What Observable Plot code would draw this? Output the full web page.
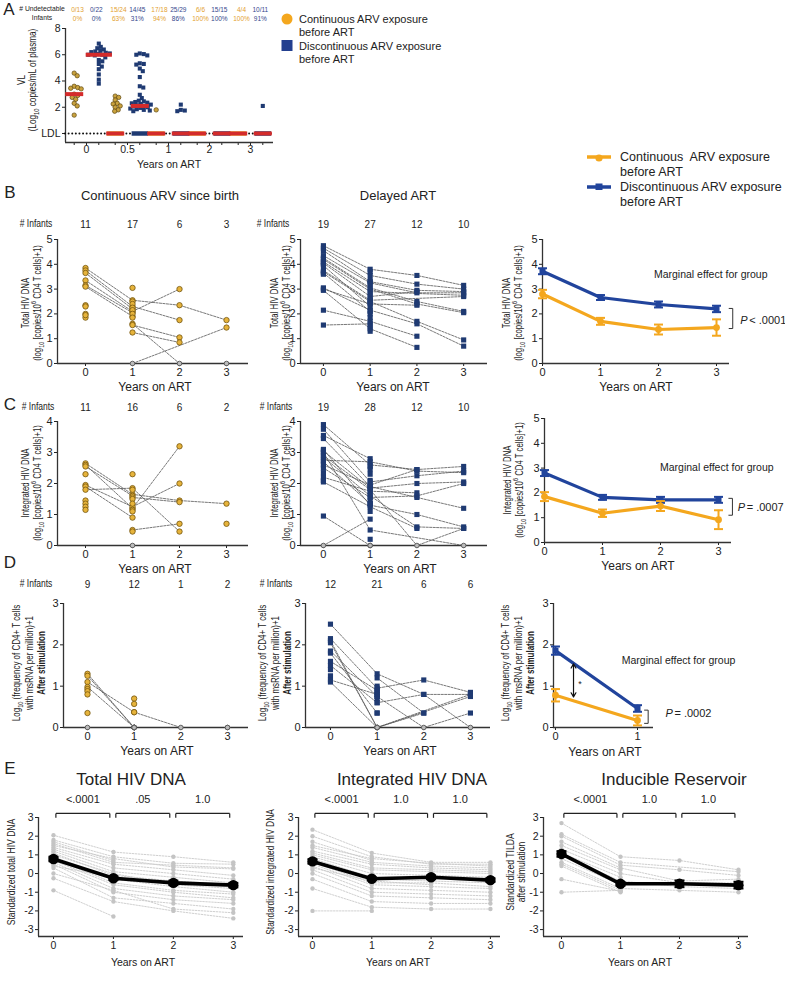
<!DOCTYPE html>
<html><head><meta charset="utf-8">
<script src="https://cdn.jsdelivr.net/npm/d3@7"></script>
<script src="https://cdn.jsdelivr.net/npm/@observablehq/plot@0.6"></script>
<style>
body{margin:0;background:#fff;}
#fig{position:relative;width:785px;height:985px;background:#fff;overflow:hidden;font-family:"Liberation Sans",Arial,Helvetica,sans-serif;color:#222;}
.abs{position:absolute;white-space:nowrap;line-height:1;}
.vl{position:absolute;white-space:nowrap;text-align:center;}
sub,sup{font-size:70%;line-height:0;}
</style></head>
<body><div id="fig"></div>
<script>
// ================= DATA =================
// Panel A: viral load
const vlTimes = ["0", "0.5", "1", "2", "3"];
const vlContTotal = [13, 24, 18, 6, 4];
const vlContUndet = [0, 15, 17, 6, 4];
const vlDiscTotal = [22, 45, 29, 15, 11];
const vlDiscUndet = [0, 14, 25, 15, 10];
const vlContDetected = [
  [4.6, 4.4, 3.6, 3.5, 3.45, 3.4, 3.0, 2.9, 2.75, 2.6, 2.3, 2.1, 1.4],
  [2.85, 2.75, 2.55, 2.3, 2.25, 2.1, 2.0, 1.8, 1.7],
  [1.8], [], []
];
const vlDiscDetected = [
  [6.85, 6.6, 6.5, 6.4, 6.3, 6.25, 6.2, 6.15, 6.1, 6.05, 6.0, 6.0, 5.95, 5.8, 5.6, 5.5, 5.3, 5.1, 4.9, 4.5, 4.1, 3.8],
  [6.1, 6.05, 6.0, 5.95, 5.35, 5.3, 5.25, 4.95, 4.75, 4.3, 3.6, 3.5, 2.95, 2.7, 2.5, 2.45, 2.4, 2.35, 2.3, 2.25, 2.2, 2.15, 2.1, 2.05, 2.0, 1.95, 1.9, 1.85, 1.8, 1.75, 1.7],
  [2.2, 1.8, 1.75, 1.7], [], [2.1]
];

// Individual trajectories (years 0,1,2,3; null = not measured)
const years = [0, 1, 2, 3];
const bContTraj = [
  [3.85, 2.55, 2.35, 1.75], [3.75, 2.3, 1.75, null], [3.65, 2.2, null, null], [3.35, 2.1, 3.0, null],
  [3.15, 2.05, null, null], [3.1, 1.9, null, null], [2.35, null, null, null], [2.3, null, null, null],
  [2.0, null, null, null], [1.85, null, null, null], [1.95, null, null, null],
  [null, 1.6, 0, null], [null, 1.55, 1.05, null], [null, 1.25, 0.85, null], [null, 0, null, 1.45], [null, null, null, 0]
];
const bContOnly = [[], [3.05, 2.5, 2.4, 2.25, 2.15, 2.0, 1.85], [], []];
const bDelTraj = [
  [4.75, 3.8, 3.55, 3.15], [4.65, 3.55, 3.2, 3.0], [4.55, 3.3, 2.95, 2.9], [4.35, 3.25, 2.85, 2.85],
  [4.25, 3.05, 2.5, 2.1], [4.2, 3.0, 2.4, 2.05], [4.1, 2.9, null, 2.75], [4.05, 2.7, 2.9, null],
  [3.75, 2.55, null, 2.7], [3.7, 2.5, 1.7, 0.95], [3.05, 2.15, 1.6, 0.7], [3.0, 2.4, 2.35, null],
  [2.15, 1.7, 1.1, null], [1.55, 1.6, null, null], [4.0, null, null, null], [3.95, 2.3, null, null],
  [3.65, 2.1, null, null], [2.95, 1.4, 0.65, null], [3.6, null, null, null]
];
const bDelOnly = [[], [3.7, 3.35, 3.2, 2.8, 2.6, 2.45, 2.0, 1.85, 1.5, 1.3], [], []];
const cContTraj = [
  [2.65, 1.65, 1.45, 1.35], [2.6, 1.2, 3.2, null], [2.55, 1.6, null, null], [2.3, null, null, null],
  [1.95, 1.25, 2.0, null], [1.9, 0.9, null, null], [1.8, 1.85, 0.45, null], [1.45, null, null, null],
  [1.35, null, null, null], [1.25, null, null, null], [1.15, null, null, null],
  [null, 0.5, 0.7, null], [null, 1.55, 1.4, null], [null, null, null, 0.7]
];
const cContOnly = [[], [2.3, 1.8, 1.5, 1.35, 1.15, 1.1, 0.45, 0], [], []];
const cDelTraj = [
  [3.9, 2.6, 2.45, 2.55], [3.75, 2.05, 2.25, 2.4], [3.55, 2.8, null, null], [3.45, 1.9, 1.55, 1.2],
  [3.1, 1.3, 1.0, 0.6], [3.05, 1.85, 2.0, 2.05], [2.85, 1.6, 0.6, 0.55], [2.75, 2.7, 2.4, 2.35],
  [2.7, 1.35, null, null], [2.5, 1.55, 1.6, 2.0], [2.05, 1.25, 0.55, null], [0.95, 0, null, null],
  [0, 0.85, null, null], [3.0, 0.5, null, 0], [2.9, 1.8, 0, 0.55], [2.6, 1.95, 2.45, null],
  [2.2, 1.75, 1.7, null], [2.35, null, null, null], [2.1, null, null, null]
];
const cDelOnly = [[], [2.55, 2.45, 2.3, 2.1, 1.9, 1.65, 1.45, 1.35, 1.1, 0.2, 0], [], []];
const dContTraj = [
  [1.3, 0, null, null], [1.25, 0, null, null], [1.1, 0.37, 0, null], [0.98, 0, null, null],
  [0.93, null, null, null], [0.88, null, null, null], [0.8, null, null, null], [0.35, null, null, null], [0, null, null, null]
];
const dContOnly = [[], [0.7, 0.57, 0.37, 0, 0, 0, 0, 0], [], [0, 0]];
const dDelTraj = [
  [2.5, 1.3, 0.8, 0.8], [2.15, 0.95, 1.15, 0.85], [2.1, 0, 0.35, null], [2.05, 0, null, 0.75],
  [1.85, 0.75, 0, 0.35], [1.8, 0.35, null, null], [1.6, 0.9, null, null], [1.5, 0.6, 0.8, 0],
  [1.4, null, null, null], [1.25, null, null, null], [1.15, 0.8, null, null], [1.1, 0, null, 0.8],
  [null, 1.2, 0.35, null]
];
const dDelOnly = [[], [1.0, 0.9, 0.85, 0.8, 0.75, 0.7, 0.6, 0.35, 0, 0], [], []];

// # Infants
const bContN = [11, 17, 6, 3], bDelN = [19, 27, 12, 10];
const cContN = [11, 16, 6, 2], cDelN = [19, 28, 12, 10];
const dContN = [9, 12, 1, 2], dDelN = [12, 21, 6, 6];

// Model means (right column)
const bMeanCont = [2.8, 1.7, 1.37, 1.45], bSeCont = [0.17, 0.14, 0.2, 0.33];
const bMeanDisc = [3.72, 2.66, 2.38, 2.2], bSeDisc = [0.12, 0.1, 0.12, 0.13];
const cMeanCont = [1.85, 1.18, 1.47, 0.92], cSeCont = [0.18, 0.15, 0.2, 0.38];
const cMeanDisc = [2.8, 1.82, 1.72, 1.72], cSeDisc = [0.12, 0.1, 0.12, 0.12];
const dMeanCont = [0.78, 0.17], dSeCont = [0.15, 0.12];
const dMeanDisc = [1.86, 0.46], dSeDisc = [0.1, 0.08];

// Panel E: standardized trajectories and means
const eTotalTraj = [
  [2.05, 1.15, 0.9, 0.6], [1.8, 0.9, 0.55, 0.5], [1.6, 0.6, 0.45, 0.3], [1.5, 0.8, 0.35, 0.25],
  [1.4, 0.5, 0.2, -0.1], [1.3, 0.3, 0.0, -0.3], [1.2, 0.1, -0.2, -0.5], [1.1, -0.1, -0.4, -0.6],
  [1.0, 0.0, -0.6, -0.8], [0.9, -0.3, -0.7, -1.0], [0.8, -0.5, -0.9, -1.1], [0.7, -0.6, -1.0, -1.3],
  [0.6, -0.8, -1.2, -1.4], [0.5, -1.0, -1.4, -1.6], [0.3, -1.3, -1.6, -1.9], [0.0, -0.9, -1.9, -2.1],
  [-0.25, -1.5, -2.0, -2.4], [-0.9, -2.3, null, null], [1.7, 0.7, null, null], [0.4, -0.2, -0.5, null]
];
const eIntTraj = [
  [2.35, 1.1, 0.6, 0.6], [2.0, 0.9, 0.5, 0.5], [1.5, 0.8, 0.55, 0.4], [1.4, 0.6, 0.4, 0.3],
  [1.2, 0.5, 0.3, 0.2], [1.1, 0.3, 0.2, 0.1], [1.0, 0.2, 0.1, 0.0], [0.9, 0.0, -0.1, -0.2],
  [0.8, -0.2, -0.2, -0.3], [0.7, -0.3, -0.4, -0.5], [0.6, -0.5, -0.5, -0.7], [0.5, -0.6, -0.7, -0.8],
  [0.4, -0.8, -0.9, -1.0], [0.2, -1.0, -1.1, -1.2], [0.0, -1.2, -1.3, -1.4], [-0.3, -1.5, -1.6, -1.6],
  [-0.8, -1.8, -1.9, -1.9], [-2.0, -2.0, null, null], [1.7, 0.7, null, null], [0.3, -0.4, -0.6, null]
];
const eIndTraj = [
  [2.7, 0.9, 0.7, 0.2], [2.1, 0.6, null, 0.1], [2.0, 0.45, 0.2, -0.1], [1.7, 0.3, -0.4, -0.3],
  [1.5, 0.2, null, null], [1.3, 0.0, -0.5, -0.5], [1.1, -0.2, null, null], [1.0, -0.4, -0.7, -0.8],
  [0.8, -0.6, null, null], [0.6, -0.8, -0.9, -1.0], [0.5, -0.9, null, null], [0.4, -1.0, null, null],
  [-0.3, -0.95, null, null], [-1.0, -0.9, null, null]
];
const eTotalMean = [0.78, -0.25, -0.5, -0.62], eTotalSe = [0.12, 0.1, 0.12, 0.12];
const eIntMean = [0.65, -0.28, -0.2, -0.35], eIntSe = [0.12, 0.08, 0.1, 0.1];
const eIndMean = [1.05, -0.55, -0.55, -0.62], eIndSe = [0.15, 0.1, 0.18, 0.18];
const eTotalP = ["<.0001", ".05", "1.0"];
const eIntP = ["<.0001", "1.0", "1.0"];
const eIndP = ["<.0001", "1.0", "1.0"];

// ================= STYLE =================
const FONT = '"Liberation Sans", Arial, Helvetica, sans-serif';
const YEL = "#f4a71e", BLU = "#21449c";
const DOTY = "#e6b33b", DOTYS = "#73550f", DOTB = "#1f3a72";
const fig = document.getElementById("fig");

function label(html, x, y, {size = 11, anchor = "middle", weight = "normal", color = "#222", sx = 1} = {}) {
  const d = document.createElement("div");
  d.className = "abs";
  d.innerHTML = html;
  const tx = anchor === "middle" ? "-50%" : anchor === "start" ? "0" : "-100%";
  Object.assign(d.style, {left: x + "px", top: y + "px", fontSize: size + "px", fontWeight: weight, color,
    transformOrigin: anchor === "start" ? "0 50%" : "50% 50%",
    transform: `translate(${tx},-50%) scaleX(${sx})`});
  fig.appendChild(d);
}
function vlabel(lines, x, y, {size = 10, lh = 11.5, sx = 0.78} = {}) {
  const d = document.createElement("div");
  d.className = "vl";
  d.innerHTML = lines.join("<br>");
  Object.assign(d.style, {left: x + "px", top: y + "px", fontSize: size + "px", lineHeight: lh + "px",
    transform: `translate(-50%,-50%) rotate(-90deg) scaleX(${sx})`});
  fig.appendChild(d);
}
function ppu(f, xdom) { return (f.fr - f.fl) / (xdom[1] - xdom[0]); }

function panel(o) {
  const {fl, fr, ft, fb, xdom, ydom, xticks, yticks, marks, ml = 30, mr = 8, mt = 8, mb = 24, fs = 11,
    xfmt = d => String(d), yfmt = d => String(d), xTick = 3, xPad = 2, yTick = 3, yPad = 2} = o;
  const width = fr - fl + ml + mr, height = fb - ft + mt + mb;
  const svg = Plot.plot({
    width, height, marginLeft: ml, marginRight: mr, marginTop: mt, marginBottom: mb,
    style: {fontSize: fs + "px", fontFamily: FONT, background: "transparent", overflow: "visible", color: "#222"},
    x: {domain: xdom, ticks: xticks, tickSize: xTick, tickPadding: xPad, label: null, tickFormat: xfmt},
    y: {domain: ydom, ticks: yticks, tickSize: yTick, tickPadding: yPad, label: null, tickFormat: yfmt},
    marks: [
      Plot.ruleY([ydom[0]], {stroke: "#333", strokeWidth: 1.3}),
      Plot.ruleX([xdom[0]], {stroke: "#333", strokeWidth: 1.3}),
      ...marks
    ]
  });
  svg.style.position = "absolute";
  svg.style.left = (fl - ml) + "px";
  svg.style.top = (ft - mt) + "px";
  fig.appendChild(svg);
}

function longRows(traj, only) {
  const rows = [];
  traj.forEach((t, id) => t.forEach((v, j) => { if (v != null) rows.push({id, x: years[j], y: v, line: true}); }));
  (only || []).forEach((vals, j) => vals.forEach((v, k) => rows.push({id: "o" + j + "_" + k, x: years[j], y: v, line: false})));
  return rows;
}

function indivPanel({f, xdom, ydom, yticks, traj, only, counts, rowY, kind}) {
  const rows = longRows(traj, only);
  const nz = rows.filter(d => d.y > 0), zs = rows.filter(d => d.y === 0);
  panel({...f, xdom, ydom, xticks: years, yticks, mt: f.ft - rowY + 8, marks: [
    Plot.line(rows.filter(d => d.line), {x: "x", y: "y", z: "id", stroke: "#555", strokeWidth: 0.8, strokeDasharray: "2.2,1.3"}),
    Plot.dot(zs, {x: "x", y: "y", r: 2.3, fill: "#bbb", stroke: "#555", strokeWidth: 0.9}),
    kind === "cont"
      ? Plot.dot(nz, {x: "x", y: "y", r: 2.7, fill: DOTY, stroke: DOTYS, strokeWidth: 0.8})
      : Plot.dot(nz, {x: "x", y: "y", r: 2.9, symbol: "square", fill: DOTB}),
    Plot.text(counts, {x: counts.map((_, i) => years[i]), y: counts.map(() => ydom[1]), dy: rowY - f.ft,
      text: counts.map(String), fontSize: 10})
  ]});
}

function seriesRows(mean, se) { return mean.map((y, i) => ({x: years[i], y, se: se[i]})); }
function meanMarks(rows, color, symbol, cap, lw = 3.2, r = 3.4) {
  return [
    Plot.ruleX(rows, {x: "x", y1: d => d.y - d.se, y2: d => d.y + d.se, stroke: color, strokeWidth: 2}),
    Plot.link(rows, {x1: d => d.x - cap, x2: d => d.x + cap, y1: d => d.y + d.se, y2: d => d.y + d.se, stroke: color, strokeWidth: 2}),
    Plot.link(rows, {x1: d => d.x - cap, x2: d => d.x + cap, y1: d => d.y - d.se, y2: d => d.y - d.se, stroke: color, strokeWidth: 2}),
    Plot.line(rows, {x: "x", y: "y", stroke: color, strokeWidth: lw}),
    Plot.dot(rows, {x: "x", y: "y", r, symbol, fill: color})
  ];
}
function meanPanel({f, xdom, ydom, yticks, cont, disc, br, brX, pText, pX, pY, meX, meY, extra = []}) {
  const k = ppu(f, xdom), cap = 4.5 / k, tk = 4 / k;
  panel({...f, xdom, ydom, xticks: years.filter(v => v <= xdom[1]), yticks, mr: 785 - f.fr, xTick: 3, marks: [
    ...meanMarks(disc, BLU, "square", cap),
    ...meanMarks(cont, YEL, "circle", cap),
    Plot.link([br], {x1: () => brX, x2: () => brX, y1: d => d[0], y2: d => d[1], stroke: "#333", strokeWidth: 1}),
    Plot.link(br, {x1: () => brX - tk, x2: () => brX, y1: d => d, y2: d => d, stroke: "#333", strokeWidth: 1}),
    Plot.text(["P"], {x: [pX], y: [pY], textAnchor: "start", fontStyle: "italic", fontSize: 11}),
    Plot.text([pText], {x: [pX], y: [pY], dx: 9, textAnchor: "start", fontSize: 11}),
    Plot.text(["Marginal effect for group"], {x: [meX], y: [meY], fontSize: 10.5}),
    ...extra
  ]});
}

function ePanel({f, xdom, traj, mean, se, pv}) {
  const rows = longRows(traj);
  const k = ppu(f, xdom), cap = 5 / k;
  const br = pv.map((p, i) => ({x1: i + 0.04, x2: i + 0.94, p}));
  panel({...f, xdom, ydom: [-3.37, 3], xticks: years, yticks: [-3, -2, -1, 0, 1, 2, 3], ml: 26, mt: 34, fs: 10.5, marks: [
    Plot.line(rows, {x: "x", y: "y", z: "id", stroke: "#c9c9c9", strokeWidth: 0.9, strokeDasharray: "1.6,1.4"}),
    Plot.dot(rows, {x: "x", y: "y", r: 2.2, fill: "#c4c4c4"}),
    ...meanMarks(seriesRows(mean, se), "#000", "circle", cap, 3.6, 5.2),
    Plot.link(br, {x1: "x1", x2: "x2", y1: () => 3.22, y2: () => 3.22, stroke: "#222", strokeWidth: 1.2}),
    Plot.link(br, {x1: "x1", x2: "x1", y1: () => 3.22, y2: () => 2.98, stroke: "#222", strokeWidth: 1.2}),
    Plot.link(br, {x1: "x2", x2: "x2", y1: () => 3.22, y2: () => 2.98, stroke: "#222", strokeWidth: 1.2}),
    Plot.text(br, {x: d => (d.x1 + d.x2) / 2, y: () => 3.97, text: "p", fontSize: 11})
  ]});
}

// ================= PANEL A =================
function swarm(values, py, r) {
  const items = values.map((v, i) => ({i, y: py(v)})).sort((a, b) => a.y - b.y);
  const placed = [], out = new Array(values.length).fill(0);
  for (const it of items) {
    let x = 0;
    for (let k = 0; k < 600; k++) {
      const cand = (k % 2 ? 1 : -1) * Math.ceil(k / 2) * 0.5;
      if (placed.every(q => (q.x - cand) ** 2 + (q.y - it.y) ** 2 >= (2 * r) ** 2)) { x = cand; break; }
    }
    placed.push({x, y: it.y});
    out[it.i] = x;
  }
  return out;
}
{
  const fA = {fl: 65, fr: 273, ft: 28, fb: 142};
  const xdom = [-0.512, 4.561], ydom = [-0.686, 8];
  const py = d3.scaleLinear(ydom, [fA.fb, fA.ft]);
  const k = ppu(fA, xdom);
  const dots = [], groups = [];
  vlTimes.forEach((t, i) => {
    [["cont", vlContDetected[i], vlContTotal[i], vlContUndet[i], -0.3],
     ["disc", vlDiscDetected[i], vlDiscTotal[i], vlDiscUndet[i], 0.3]].forEach(([kind, det, tot, und, off]) => {
      const pos = i + off;
      const offs = swarm(det, py, 1.85);
      det.forEach((v, j) => dots.push({kind, x: pos + offs[j] / k, y: v}));
      const all = det.concat(d3.range(und).map(() => 0));
      groups.push({kind, i, pos, und, tot, median: d3.median(all),
        frac: `${und}/${tot}`, pct: Math.round(100 * und / tot) + "%",
        hx: i + (kind === "cont" ? -0.22 : 0.24), hw: kind === "cont" ? 0.22 : (i === 0 ? 0.32 : 0.22)});
    });
  });
  const xt = [];
  vlTimes.forEach((t, i) => xt.push(i - 0.3, i, i + 0.3));
  const cont = groups.filter(g => g.kind === "cont"), disc = groups.filter(g => g.kind === "disc");
  panel({...fA, xdom, ydom, xticks: xt, yticks: [0, 2, 4, 6, 8], ml: 28, mt: 28, mb: 16, fs: 10.5,
    xTick: 3, xPad: 0.5,
    xfmt: d => Number.isInteger(d) ? vlTimes[d] : "", yfmt: d => d === 0 ? "LDL" : String(d), marks: [
    Plot.ruleY([0], {stroke: "#111", strokeWidth: 2, strokeDasharray: "0.01,3.6", strokeLinecap: "round"}),
    Plot.link(cont.filter(g => g.und > 0), {x1: g => g.pos - 0.2, x2: g => g.pos + 0.2, y1: () => 0, y2: () => 0, stroke: DOTY, strokeWidth: 4.5}),
    Plot.link(disc.filter(g => g.und > 0), {x1: g => g.pos - 0.2, x2: g => g.pos + 0.2, y1: () => 0, y2: () => 0, stroke: DOTB, strokeWidth: 4.5}),
    Plot.dot(dots.filter(d => d.kind === "cont"), {x: "x", y: "y", r: 2.2, fill: "#c9a23e", stroke: "#5e4810", strokeWidth: 0.7}),
    Plot.dot(dots.filter(d => d.kind === "disc"), {x: "x", y: "y", r: 2.3, symbol: "square", fill: DOTB}),
    Plot.link(groups, {x1: g => g.pos - g.hw, x2: g => g.pos + g.hw, y1: "median", y2: "median", stroke: "#d42b2b", strokeWidth: 4}),
    Plot.text(cont, {x: "hx", y: () => 9.45, text: "frac", fontSize: 6.5, fill: "#e3a12f"}),
    Plot.text(cont, {x: "hx", y: () => 8.76, text: "pct", fontSize: 6.5, fill: "#e3a12f"}),
    Plot.text(disc, {x: "hx", y: () => 9.45, text: "frac", fontSize: 6.5, fill: "#34478c"}),
    Plot.text(disc, {x: "hx", y: () => 8.76, text: "pct", fontSize: 6.5, fill: "#34478c"})
  ]});
}
label("A", 9, 9, {size: 17});
label("# Undetectable", 42, 9, {size: 7.5, sx: 0.9});
label("Infants", 42, 18, {size: 7.5, sx: 0.9});
vlabel(["VL", "(Log<sub>10</sub> copies/mL of plasma)"], 27, 80, {size: 10, lh: 11, sx: 0.82});
label("Years on ART", 169, 164, {size: 10.5});
// A legend
{
  const s = document.createElementNS("http://www.w3.org/2000/svg", "svg");
  s.setAttribute("width", 20); s.setAttribute("height", 40);
  Object.assign(s.style, {position: "absolute", left: "277px", top: "12px"});
  s.innerHTML = `<circle cx="10" cy="7" r="5.5" fill="${YEL}"/><rect x="4.5" y="28" width="11" height="11" fill="#233f8f"/>`;
  fig.appendChild(s);
}
label("Continuous ARV exposure", 299, 19, {size: 11, anchor: "start"});
label("before ART", 299, 32, {size: 11, anchor: "start"});
label("Discontinuous ARV exposure", 299, 46, {size: 11, anchor: "start"});
label("before ART", 299, 59, {size: 11, anchor: "start"});

// ================= RIGHT LEGEND =================
{
  const s = document.createElementNS("http://www.w3.org/2000/svg", "svg");
  s.setAttribute("width", 30); s.setAttribute("height", 40);
  Object.assign(s.style, {position: "absolute", left: "585px", top: "150px"});
  s.innerHTML = `<line x1="2" x2="26" y1="7" y2="7" stroke="${YEL}" stroke-width="3.5"/><circle cx="14" cy="8" r="3.6" fill="${YEL}"/>
    <line x1="2" x2="26" y1="37" y2="37" stroke="${BLU}" stroke-width="3.5"/><rect x="10.5" y="33.5" width="7" height="7" fill="${BLU}"/>`;
  fig.appendChild(s);
}
label("Continuous&nbsp; ARV exposure", 620, 157, {size: 12.5, anchor: "start"});
label("before ART", 620, 172, {size: 12.5, anchor: "start"});
label("Discontinuous ARV exposure", 620, 187, {size: 12.5, anchor: "start"});
label("before ART", 620, 202, {size: 12.5, anchor: "start"});

// ================= ROW B =================
label("B", 10, 192, {size: 17});
label("Continuous ARV since birth", 160, 195, {size: 13});
label("Delayed ART", 398, 195, {size: 13});
label("# Infants", 36, 224, {size: 10, sx: 0.85});
label("# Infants", 273, 224, {size: 10, sx: 0.85});
const dnaLab = "(log<sub>10</sub> [copies/10<sup>6</sup> CD4 T cells]+1)";
indivPanel({f: {fl: 57, fr: 248, ft: 239, fb: 363}, xdom: [-0.596, 3.468], ydom: [0, 5], yticks: [0, 1, 2, 3, 4, 5],
  traj: bContTraj, only: bContOnly, counts: bContN, rowY: 224, kind: "cont"});
indivPanel({f: {fl: 300, fr: 487, ft: 239, fb: 363}, xdom: [-0.49, 3.51], ydom: [0, 5], yticks: [0, 1, 2, 3, 4, 5],
  traj: bDelTraj, only: bDelOnly, counts: bDelN, rowY: 224, kind: "del"});
meanPanel({f: {fl: 542, fr: 729, ft: 239, fb: 363}, xdom: [0, 3.224], ydom: [0, 5], yticks: [0, 1, 2, 3, 4, 5],
  cont: seriesRows(bMeanCont, bSeCont), disc: seriesRows(bMeanDisc, bSeDisc),
  br: [2.22, 1.41], brX: 3.28, pText: "< .0001", pX: 3.41, pY: 1.73, meX: 2.9, meY: 3.59});
vlabel(["Total HIV DNA", dnaLab], 31, 303);
vlabel(["Total HIV DNA", dnaLab], 280, 303);
vlabel(["Total HIV DNA", dnaLab], 512, 303);
label("Years on ART", 155, 387, {size: 12});
label("Years on ART", 393, 387, {size: 12});
label("Years on ART", 636, 387, {size: 12});

// ================= ROW C =================
label("C", 10, 404, {size: 17});
label("# Infants", 38, 407, {size: 10, sx: 0.85});
label("# Infants", 276, 407, {size: 10, sx: 0.85});
indivPanel({f: {fl: 57, fr: 248, ft: 421, fb: 545}, xdom: [-0.596, 3.468], ydom: [0, 4], yticks: [0, 1, 2, 3, 4],
  traj: cContTraj, only: cContOnly, counts: cContN, rowY: 407, kind: "cont"});
indivPanel({f: {fl: 300, fr: 487, ft: 421, fb: 545}, xdom: [-0.49, 3.51], ydom: [0, 4], yticks: [0, 1, 2, 3, 4],
  traj: cDelTraj, only: cDelOnly, counts: cDelN, rowY: 407, kind: "del"});
meanPanel({f: {fl: 544, fr: 731, ft: 418, fb: 542}, xdom: [0, 3.224], ydom: [0, 5], yticks: [0, 1, 2, 3, 4, 5],
  cont: seriesRows(cMeanCont, cSeCont), disc: seriesRows(cMeanDisc, cSeDisc),
  br: [1.78, 1.1], brX: 3.24, pText: "= .0007", pX: 3.33, pY: 1.41, meX: 2.97, meY: 3.02});
vlabel(["Integrated HIV DNA", dnaLab], 31, 483);
vlabel(["Integrated HIV DNA", dnaLab], 280, 483);
vlabel(["Integrated HIV DNA", dnaLab], 513, 480);
label("Years on ART", 155, 569, {size: 12});
label("Years on ART", 400, 569, {size: 12});
label("Years on ART", 638, 566, {size: 12});

// ================= ROW D =================
label("D", 10, 562, {size: 17});
label("# Infants", 36, 584, {size: 10, sx: 0.85});
label("# Infants", 276, 584, {size: 10, sx: 0.85});
indivPanel({f: {fl: 63, fr: 248, ft: 603, fb: 727}, xdom: [-0.514, 3.45], ydom: [0, 3], yticks: [0, 1, 2, 3],
  traj: dContTraj, only: dContOnly, counts: dContN, rowY: 584, kind: "cont"});
indivPanel({f: {fl: 305, fr: 490, ft: 603, fb: 727}, xdom: [-0.535, 3.43], ydom: [0, 3], yticks: [0, 1, 2, 3],
  traj: dDelTraj, only: dDelOnly, counts: dDelN, rowY: 584, kind: "del"});
{
  const fD = {fl: 553, fr: 653, ft: 603, fb: 727}, xdom = [-0.024, 1.195];
  meanPanel({f: fD, xdom, ydom: [0, 3], yticks: [0, 1, 2, 3],
    cont: seriesRows(dMeanCont, dSeCont), disc: seriesRows(dMeanDisc, dSeDisc),
    br: [0.42, 0.1], brX: 1.13, pText: "= .0002", pX: 1.34, pY: 0.34, meX: 1.5, meY: 1.62,
    extra: [
      Plot.arrow([0], {x1: () => 0.22, x2: () => 0.22, y1: () => 1.13, y2: () => 1.54, stroke: "#111", strokeWidth: 1.2, headLength: 6}),
      Plot.arrow([0], {x1: () => 0.22, x2: () => 0.22, y1: () => 1.13, y2: () => 0.74, stroke: "#111", strokeWidth: 1.2, headLength: 6}),
      Plot.text(["*"], {x: [0.3], y: [1.05], fontSize: 9})
    ]});
}
const tildaLab = ["Log<sub>10</sub> (frequency of CD4+ T cells", "with msRNA per million)+1", "<b>After stimulation</b>"];
vlabel(tildaLab, 30, 663, {size: 10, lh: 12.5, sx: 0.8});
vlabel(tildaLab, 276, 663, {size: 10, lh: 12.5, sx: 0.8});
vlabel(tildaLab, 519, 663, {size: 10, lh: 12.5, sx: 0.8});
label("Years on ART", 157, 751, {size: 12});
label("Years on ART", 400, 751, {size: 12});
label("Years on ART", 605, 752, {size: 12});

// ================= ROW E =================
label("E", 10, 768, {size: 17});
label("Total HIV DNA", 131, 779, {size: 17});
label("Integrated HIV DNA", 412, 779, {size: 17});
label("Inducible Reservoir", 674, 779, {size: 17});
ePanel({f: {fl: 38, fr: 243, ft: 817, fb: 936}, xdom: [-0.25, 3.17], traj: eTotalTraj, mean: eTotalMean, se: eTotalSe, pv: eTotalP});
ePanel({f: {fl: 298, fr: 500, ft: 817, fb: 936}, xdom: [-0.236, 3.17], traj: eIntTraj, mean: eIntMean, se: eIntSe, pv: eIntP});
ePanel({f: {fl: 543, fr: 748, ft: 817, fb: 936}, xdom: [-0.305, 3.17], traj: eIndTraj, mean: eIndMean, se: eIndSe, pv: eIndP});
vlabel(["Standardized total HIV DNA"], 12, 872, {size: 10, sx: 0.86});
vlabel(["Standardized integrated HIV DNA"], 271, 872, {size: 10, sx: 0.84});
vlabel(["Standardized TILDA", "after stimulation"], 516, 872, {size: 10, lh: 11, sx: 0.86});
label("Years on ART", 143, 962, {size: 10.5});
label("Years on ART", 398, 962, {size: 10.5});
label("Years on ART", 640, 962, {size: 10.5});
</script></body></html>
